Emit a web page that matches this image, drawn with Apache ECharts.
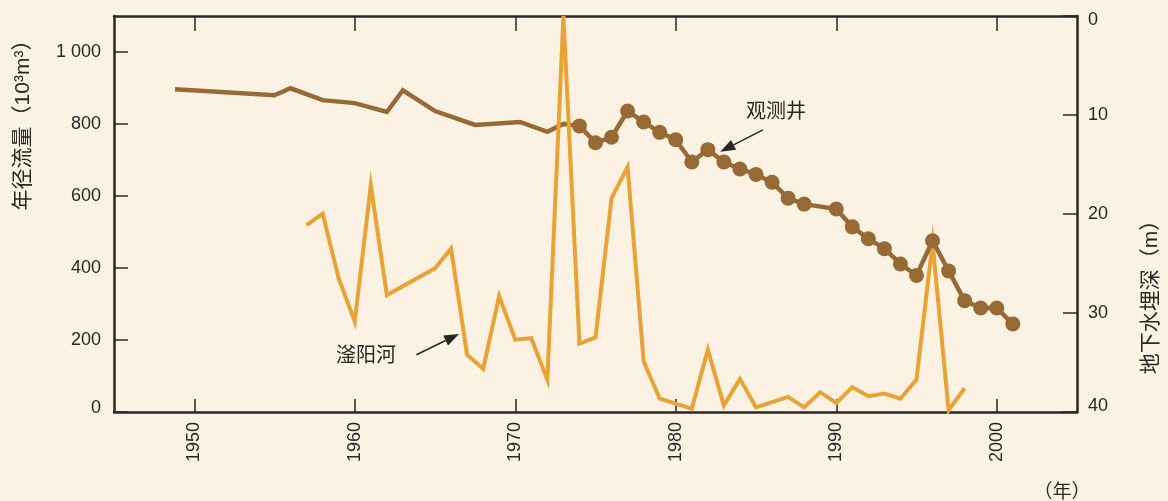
<!DOCTYPE html>
<html>
<head>
<meta charset="utf-8">
<script src="https://cdn.jsdelivr.net/npm/echarts@6/dist/echarts.min.js"></script>
<style>
  html, body { margin: 0; padding: 0; background: #fcf2e3; }
  #chart { width: 1168px; height: 501px; }
</style>
</head>
<body>
<div id="chart"></div>
<script>
// Groundwater depth at the observation well (m), before regular measurements
const wellYearsEarly = [1948.8, 1955, 1956, 1958, 1960, 1962, 1963, 1965, 1967.5, 1970.3, 1972, 1973, 1974];
const wellDepthEarly = [7.4, 8.0, 7.3, 8.5, 8.8, 9.7, 7.5, 9.6, 11.0, 10.7, 11.7, 10.9, 11.1];

// Groundwater depth at the observation well (m), yearly measurements
const wellYears = [1974, 1975, 1976, 1977, 1978, 1979, 1980, 1981, 1982, 1983, 1984, 1985, 1986, 1987, 1988,
                   1990, 1991, 1992, 1993, 1994, 1995, 1996, 1997, 1998, 1999, 2000, 2001];
const wellDepth = [11.1, 12.8, 12.25, 9.6, 10.7, 11.75, 12.5, 14.75, 13.5, 14.75, 15.45, 16.0, 16.8, 18.4, 19.0,
                   19.5, 21.3, 22.5, 23.5, 25.05, 26.2, 22.7, 25.75, 28.75, 29.5, 29.5, 31.1];

// Annual runoff of the Fuyang River (10^3 m^3)
const riverYears = [1957, 1958, 1959, 1960, 1961, 1962, 1965, 1966, 1967, 1968, 1969, 1970, 1971, 1972, 1973,
                    1974, 1975, 1976, 1977, 1978, 1979, 1981, 1982, 1983, 1984, 1985, 1987, 1988, 1989, 1990,
                    1991, 1992, 1993, 1994, 1995, 1996, 1997, 1998];
const riverFlow = [519, 551, 371, 251, 629, 325, 399, 454, 159, 120, 322, 201, 205, 90, 1100,
                   190, 207, 594, 680, 141, 37, 9, 173, 18, 92, 13, 42, 13, 55, 25,
                   69, 44, 51, 37, 90, 470, 5, 66];

// Axis ticks
const yearTicks = [1950, 1960, 1970, 1980, 1990, 2000];
const yearMin = 1945, yearMax = 2005;
const flowMax = 1100, flowStep = 200;
const depthMax = 40, depthStep = 10;

// Labels
const leftName = '年径流量（10³m³）';
const rightName = '地下水埋深（m）';
const unitLabel = '（年）';
const wellLabel = '观测井';
const riverLabel = '滏阳河';

const pairs = (xs, ys) => xs.map((x, i) => [x, ys[i]]);

const FONT = "'Liberation Sans', 'Noto Sans CJK SC', sans-serif";
const INK = '#2a2624';
const BROWN = '#976a35';
const ORANGE = '#e9a236';

const chart = echarts.init(document.getElementById('chart'), null, { renderer: 'canvas' });

const axisLine = { show: true, lineStyle: { color: INK, width: 2.5 } };
const tickStyle = { color: INK, width: 1.5 };
const labelFont = { color: INK, fontSize: 18, fontFamily: FONT };

chart.setOption({
  backgroundColor: '#fcf2e3',
  animation: false,
  grid: { left: 114, right: 91, top: 16, bottom: 89, containLabel: false },
  xAxis: [
    {
      type: 'value', position: 'bottom', min: yearMin, max: yearMax,
      axisLine: axisLine, splitLine: { show: false },
      axisTick: { show: true, inside: true, length: 13, lineStyle: tickStyle, customValues: yearTicks },
      axisLabel: Object.assign({ rotate: 90, margin: 10, customValues: yearTicks, formatter: v => String(v) }, labelFont)
    },
    {
      type: 'value', position: 'top', min: yearMin, max: yearMax,
      axisLine: axisLine, splitLine: { show: false },
      axisTick: { show: true, inside: true, length: 15, lineStyle: tickStyle, customValues: yearTicks },
      axisLabel: { show: false }
    }
  ],
  yAxis: [
    {
      type: 'value', position: 'left', min: 0, max: flowMax, interval: flowStep,
      axisLine: axisLine, splitLine: { show: false },
      axisTick: { show: true, inside: true, length: 14, lineStyle: tickStyle },
      axisLabel: Object.assign({
        margin: 13, showMaxLabel: false,
        formatter: v => v === 0 ? '{lo|0}' : String(v).replace(/\B(?=(\d{3})+(?!\d))/g, ' '),
        rich: { lo: Object.assign({ padding: [0, 0, 7, 0] }, labelFont) }
      }, labelFont)
    },
    {
      type: 'value', position: 'right', min: 0, max: depthMax, interval: depthStep, inverse: true,
      axisLine: axisLine, splitLine: { show: false },
      axisTick: { show: true, inside: true, length: 14, lineStyle: tickStyle },
      axisLabel: Object.assign({
        margin: 11,
        formatter: v => v === 0 ? '{hi|0}' : v === depthMax ? '{lo|' + v + '}' : String(v),
        rich: {
          hi: Object.assign({ padding: [8, 0, 0, 0] }, labelFont),
          lo: Object.assign({ padding: [0, 0, 11, 0] }, labelFont)
        }
      }, labelFont)
    }
  ],
  series: [
    {
      name: wellLabel, type: 'line', xAxisIndex: 0, yAxisIndex: 1,
      data: pairs(wellYearsEarly, wellDepthEarly),
      showSymbol: false, symbol: 'none',
      lineStyle: { color: BROWN, width: 4.5, join: 'miter' }, z: 2
    },
    {
      name: riverLabel, type: 'line', xAxisIndex: 0, yAxisIndex: 0,
      data: pairs(riverYears, riverFlow),
      showSymbol: false, symbol: 'none',
      lineStyle: { color: ORANGE, width: 4, join: 'miter', miterLimit: 20 }, z: 3
    },
    {
      name: wellLabel, type: 'line', xAxisIndex: 0, yAxisIndex: 1,
      data: pairs(wellYears, wellDepth),
      symbol: 'circle', symbolSize: 15, showSymbol: true,
      itemStyle: { color: BROWN },
      lineStyle: { color: BROWN, width: 4.5 }, z: 4
    }
  ]
});

// Annotations anchored to data coordinates
function toPx(axisY, x, y) {
  return chart.convertToPixel({ xAxisIndex: 0, yAxisIndex: axisY }, [x, y]);
}

function arrow(tail, tip) {
  const dx = tip[0] - tail[0], dy = tip[1] - tail[1];
  const len = Math.hypot(dx, dy);
  const ux = dx / len, uy = dy / len;
  const head = 15, half = 5.5;
  const bx = tip[0] - ux * head, by = tip[1] - uy * head;
  return [
    { type: 'line', shape: { x1: tail[0], y1: tail[1], x2: bx, y2: by },
      style: { stroke: INK, lineWidth: 1.5 }, z: 10 },
    { type: 'polygon', shape: { points: [tip, [bx - uy * half, by + ux * half], [bx + uy * half, by - ux * half]] },
      style: { fill: INK }, z: 10 }
  ];
}

const wellTxt = toPx(1, 1986.25, 9.7);
const wellTail = toPx(1, 1985.43, 11.5);
const wellTip = toPx(1, 1982.77, 13.7);
const riverTxt = toPx(0, 1960.7, 154);
const riverTail = toPx(0, 1963.84, 159);
const riverTip = toPx(0, 1966.5, 217);

const textStyle = (t, fs) => ({ text: t, fill: INK, fontSize: fs, fontFamily: FONT, align: 'center', verticalAlign: 'middle' });

chart.setOption({
  graphic: [
    { type: 'text', x: 23, y: 120, rotation: Math.PI / 2, style: textStyle(leftName, 21), z: 10 },
    { type: 'text', x: 1151, y: 292, rotation: Math.PI / 2, style: textStyle(rightName, 21), z: 10 },
    { type: 'text', x: 1062, y: 493, style: textStyle(unitLabel, 19), z: 10 },
    { type: 'text', x: wellTxt[0], y: wellTxt[1], style: textStyle(wellLabel, 20), z: 10 },
    { type: 'text', x: riverTxt[0], y: riverTxt[1], style: textStyle(riverLabel, 20), z: 10 },
    ...arrow(wellTail, wellTip),
    ...arrow(riverTail, riverTip)
  ]
});
</script>
</body>
</html>
